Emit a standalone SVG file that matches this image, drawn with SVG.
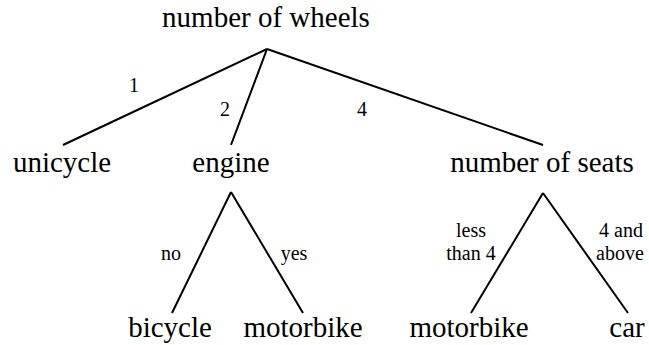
<svg xmlns="http://www.w3.org/2000/svg" width="649" height="345" viewBox="0 0 649 345">
<style>
text{fill:#000;text-anchor:middle}
.n{font-size:29px}
.l{font-size:20px}
.e{stroke:#000;stroke-width:2;fill:none}
</style>
<rect width="649" height="345" fill="#fff"/>
<g font-family="'Liberation Serif', 'Times New Roman', Times, 'DejaVu Serif', serif">
<g id="connectors">
<line class="e" x1="267" y1="49" x2="63" y2="145"/>
<line class="e" x1="267" y1="49" x2="231" y2="145"/>
<line class="e" x1="267" y1="49" x2="543" y2="145"/>
<line class="e" x1="231" y1="192" x2="172" y2="313"/>
<line class="e" x1="231" y1="192" x2="303" y2="313"/>
<line class="e" x1="543" y1="193" x2="471" y2="313"/>
<line class="e" x1="543" y1="193" x2="628" y2="313"/>
<text class="l" x="134" y="92">1</text>
<text class="l" x="225" y="116">2</text>
<text class="l" x="362" y="116">4</text>
<text class="l" x="171" y="260">no</text>
<text class="l" x="294" y="260">yes</text>
<text class="l" x="471" y="237">less</text>
<text class="l" x="471" y="260">than 4</text>
<text class="l" x="621" y="237">4 and</text>
<text class="l" x="620" y="260">above</text>
</g>
<g id="root"><text class="n" x="266" y="27">number of wheels</text></g>
<g id="unicycle"><text class="n" x="62" y="172">unicycle</text></g>
<g id="engine"><text class="n" x="231" y="172">engine</text></g>
<g id="seats"><text class="n" x="542" y="172">number of seats</text></g>
<g id="bicycle"><text class="n" x="170" y="337">bicycle</text></g>
<g id="motorbike1"><text class="n" x="303" y="337">motorbike</text></g>
<g id="motorbike2"><text class="n" x="469" y="337">motorbike</text></g>
<g id="car"><text class="n" x="627" y="337">car</text></g>
</g>
</svg>
